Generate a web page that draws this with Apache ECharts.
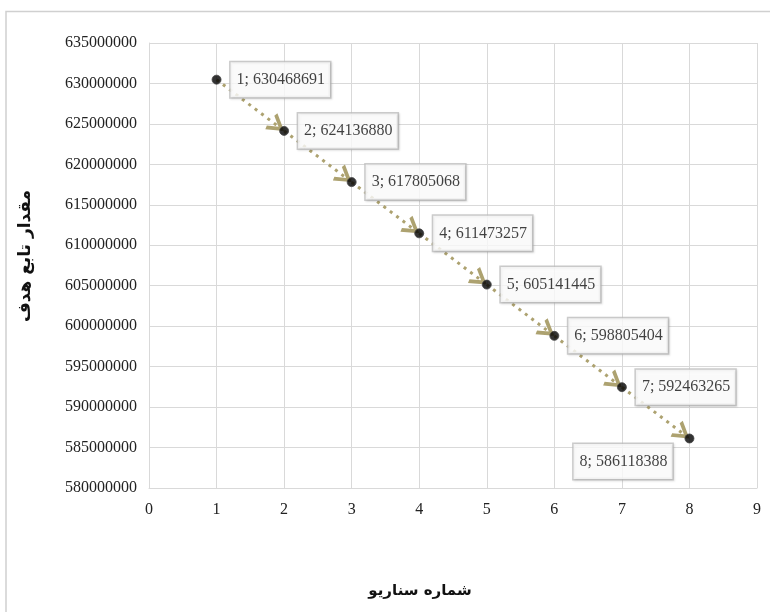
<!DOCTYPE html>
<html>
<head>
<meta charset="utf-8">
<script src="https://cdn.jsdelivr.net/npm/echarts@6/dist/echarts.min.js"></script>
<style>
  html, body { margin: 0; padding: 0; background: #fff; }
  #chart { width: 770px; height: 612px; }
</style>
</head>
<body>
<div id="chart"></div>
<script>
// Scenario numbers and objective-function values
const scenarios = [1, 2, 3, 4, 5, 6, 7, 8];
const objectiveValues = [630468691, 624136880, 617805068, 611473257, 605141445, 598805404, 592463265, 586118388];
const yTicks = { min: 580000000, max: 635000000, step: 5000000 };
const xTicks = { min: 0, max: 9, step: 1 };
const xTitle = 'شماره سناریو';
const yTitle = 'مقدار تابع هدف';

const serif = '"Liberation Serif", "Times New Roman", serif';
const gridColor = '#d9d9d9';
const trendColor = '#ada270';

const points = scenarios.map((s, i) => [s, objectiveValues[i]]);

// one arrowed dotted segment between consecutive scenarios
const segments = [];
for (let i = 0; i < points.length - 1; i++) {
  segments.push([{ coord: points[i] }, { coord: points[i + 1] }]);
}

// open chevron arrowhead; its tip sits at the centre of a 34x34 box
// (two hair-sized corner specks fix the box so the tip lands on the point)
const chevron = 'path://M7,33 L17,17 L27,33 L23.2,34 L17,24 L10.8,34 Z' +
                ' M0,0 L0.01,0 L0,0.01 Z M34,0 L33.99,0 L34,0.01 Z';

const chart = echarts.init(document.getElementById('chart'));
chart.setOption({
  animation: false,
  backgroundColor: '#fff',
  grid: { left: 149, right: 13, top: 43, bottom: 124 },
  xAxis: {
    type: 'value',
    min: xTicks.min, max: xTicks.max, interval: xTicks.step,
    axisLine: { show: true, lineStyle: { color: gridColor } },
    axisTick: { show: false },
    splitLine: { show: true, lineStyle: { color: gridColor, width: 1 } },
    axisLabel: { color: '#222', fontFamily: serif, fontSize: 16, margin: 14 }
  },
  yAxis: {
    type: 'value',
    min: yTicks.min, max: yTicks.max, interval: yTicks.step,
    axisLine: { show: true, lineStyle: { color: gridColor } },
    axisTick: { show: false },
    splitLine: { show: true, lineStyle: { color: gridColor, width: 1 } },
    axisLabel: {
      color: '#222', fontFamily: serif, fontSize: 16, margin: 12,
      formatter: v => String(v)
    }
  },
  graphic: [
    // outer chart frame
    { type: 'polyline', silent: true, shape: { points: [[6, 612], [6, 11.5], [770, 11.5]] },
      style: { stroke: '#d0d0d0', lineWidth: 1.5, fill: null } },
    { type: 'text', x: 420, y: 591,
      style: { text: xTitle, fontFamily: '"DejaVu Sans", sans-serif', fontWeight: 'bold', fontSize: 15, fill: '#111',
               align: 'center', verticalAlign: 'middle' } },
    { type: 'text', x: 26, y: 256, rotation: Math.PI / 2,
      style: { text: yTitle, fontFamily: '"DejaVu Sans", sans-serif', fontWeight: 'bold', fontSize: 17, fill: '#111',
               align: 'center', verticalAlign: 'middle' } }
  ],
  series: [
    {
      type: 'scatter',
      z: 3,
      symbol: 'circle',
      symbolSize: 9,
      itemStyle: { color: '#000', borderColor: '#444', borderWidth: 1 },
      label: {
        show: true,
        position: 'right',
        distance: 9,
        formatter: p => p.value[0] + '; ' + p.value[1],
        fontFamily: serif,
        fontSize: 16,
        color: '#111',
        backgroundColor: '#fff',
        borderColor: '#bfbfbf',
        borderWidth: 1.5,
        padding: [10, 5, 9, 6],
        shadowColor: 'rgba(0,0,0,0.12)',
        shadowBlur: 2,
        shadowOffsetX: 1,
        shadowOffsetY: 1
      },
      markLine: {
        silent: true,
        animation: false,
        z: 2,
        symbol: ['none', chevron],
        symbolSize: 34,
        label: { show: false },
        lineStyle: { color: trendColor, width: 3, type: [3, 5], opacity: 1 },
        emphasis: { disabled: true },
        data: segments
      },
      data: points.map((pt, i) => i === points.length - 1
        ? { value: pt, label: { position: 'left', distance: 12, offset: [0, 23] } }
        : { value: pt })
    }
  ]
});
</script>
</body>
</html>
